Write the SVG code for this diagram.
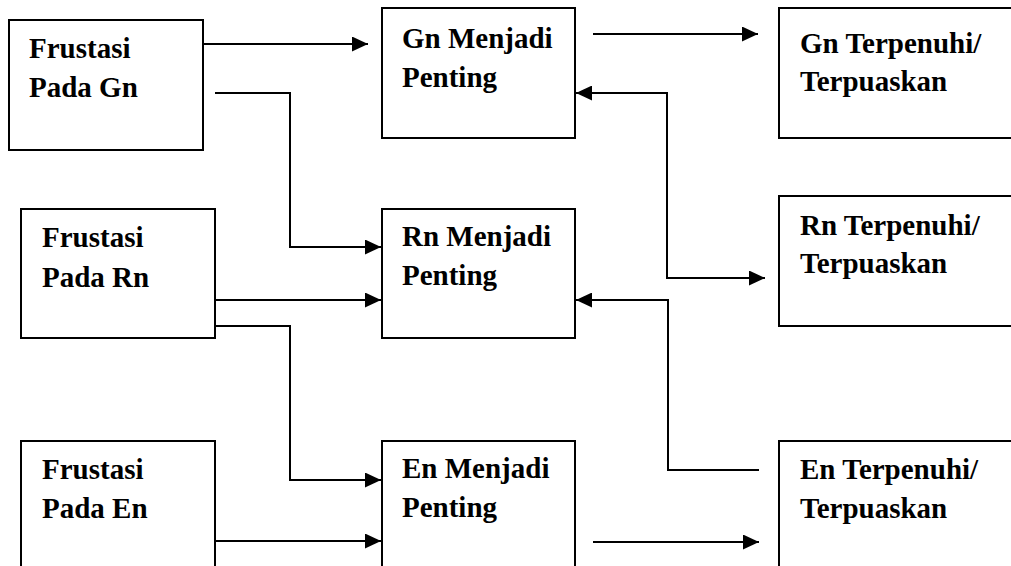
<svg xmlns="http://www.w3.org/2000/svg" width="1011" height="566" viewBox="0 0 1011 566">
  <style>
    .box { fill: #fff; stroke: #000; stroke-width: 2; }
    .wire { fill: none; stroke: #000; stroke-width: 2; }
    text { font-family: 'Liberation Serif', 'Times New Roman', Times, serif; font-weight: 700; font-size: 29px; fill: #000; }
  </style>
  <defs>
    <!-- solid triangular arrowhead, 16 long by 15 wide -->
    <marker id="head" viewBox="0 0 16 15" refX="16" refY="7.5" markerWidth="16" markerHeight="15" markerUnits="userSpaceOnUse" orient="auto-start-reverse">
      <path d="M0,0 L16,7.5 L0,15 Z" fill="#000"/>
    </marker>
  </defs>
  <rect width="1011" height="566" fill="#fff"/>

  <g id="frustasi-gn">
    <rect class="box" x="9" y="20" width="194" height="130"/>
    <text x="29" y="58">Frustasi</text>
    <text x="29" y="97">Pada Gn</text>
  </g>
  <g id="gn-penting">
    <rect class="box" x="382" y="8" width="193" height="130"/>
    <text x="402" y="48">Gn Menjadi</text>
    <text x="402" y="87">Penting</text>
  </g>
  <g id="gn-terpenuhi">
    <rect class="box" x="779" y="8" width="240" height="130"/>
    <text x="800" y="53">Gn Terpenuhi/</text>
    <text x="800" y="91">Terpuaskan</text>
  </g>

  <g id="frustasi-rn">
    <rect class="box" x="21" y="209" width="194" height="129"/>
    <text x="42" y="247">Frustasi</text>
    <text x="42" y="287">Pada Rn</text>
  </g>
  <g id="rn-penting">
    <rect class="box" x="382" y="209" width="193" height="129"/>
    <text x="402" y="246">Rn Menjadi</text>
    <text x="402" y="285">Penting</text>
  </g>
  <g id="rn-terpenuhi">
    <rect class="box" x="779" y="196" width="240" height="130"/>
    <text x="800" y="235">Rn Terpenuhi/</text>
    <text x="800" y="273">Terpuaskan</text>
  </g>

  <g id="frustasi-en">
    <rect class="box" x="21" y="441" width="194" height="200"/>
    <text x="42" y="479">Frustasi</text>
    <text x="42" y="518">Pada En</text>
  </g>
  <g id="en-penting">
    <rect class="box" x="382" y="441" width="193" height="200"/>
    <text x="402" y="478">En Menjadi</text>
    <text x="402" y="517">Penting</text>
  </g>
  <g id="en-terpenuhi">
    <rect class="box" x="779" y="441" width="240" height="200"/>
    <text x="800" y="479">En Terpenuhi/</text>
    <text x="800" y="518">Terpuaskan</text>
  </g>

  <g id="connectors">
    <path class="wire" d="M203,44 H368" marker-end="url(#head)"/>
    <path class="wire" d="M215,93 H290 V247 H381" marker-end="url(#head)"/>
    <path class="wire" d="M593,34 H758" marker-end="url(#head)"/>
    <path class="wire" d="M576,93 H667 V278 H765" marker-start="url(#head)" marker-end="url(#head)"/>
    <path class="wire" d="M215,300 H381" marker-end="url(#head)"/>
    <path class="wire" d="M215,326 H290 V480 H381" marker-end="url(#head)"/>
    <path class="wire" d="M759,470 H668 V300 H576" marker-end="url(#head)"/>
    <path class="wire" d="M215,541 H381" marker-end="url(#head)"/>
    <path class="wire" d="M593,542 H759" marker-end="url(#head)"/>
  </g>
</svg>
